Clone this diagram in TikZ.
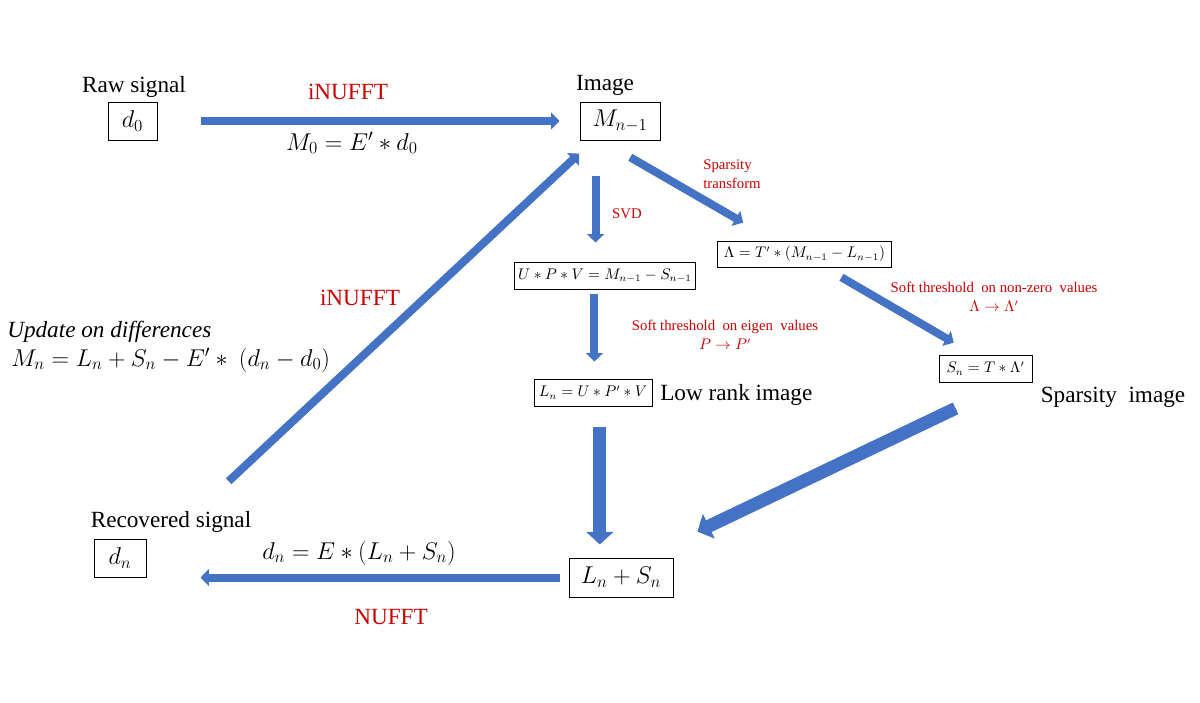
\documentclass[tikz,border=0pt]{standalone}
\usepackage{fontspec}
\setmainfont{Liberation Serif}
\usetikzlibrary{arrows.meta,calc}
\definecolor{arrowblue}{RGB}{68,114,196}
\definecolor{labelred}{RGB}{204,0,0}

\begin{document}
\begin{tikzpicture}[x=0.025cm, y=-0.025cm,
  box/.style={rectangle, draw=black, line width=0.7pt, inner sep=1pt, align=center},
  bigbox/.style={box, font=\fontsize{16.5}{19}\selectfont},
  smallbox/.style={box, font=\fontsize{10.5}{12}\selectfont},
  lbl/.style={font=\fontsize{16.5}{19}\selectfont, inner sep=0pt},
  redlbl/.style={lbl, text=labelred},
  smallred/.style={font=\fontsize{10.5}{13.5}\selectfont, text=labelred, inner sep=0pt},
  thinarr/.style={draw=arrowblue, line width=5.7pt, -{Triangle[width=12pt,length=6pt]}},
  bigarr/.style={draw=arrowblue, line width=9.2pt, -{Triangle[width=19pt,length=9pt]}}
]
\useasboundingbox (0,0) rectangle (1200,702);

% raw signal and image
\node[lbl] (rawlbl) at (134,87) {Raw signal};
\node[bigbox, minimum width=1.225cm, minimum height=0.95cm] (d0) at (132.5,121) {$d_0$};
\node[lbl] (imglbl) at (605,85) {Image};
\node[bigbox, minimum width=2cm, minimum height=0.95cm] (M) at (620,121) {$M_{n-1}$};
\node[redlbl] (inufft) at (348,92) {iNUFFT};
\node[lbl] (minit) at (352,143) {$M_0 = E' * d_0$};

% low rank branch
\node[smallbox, minimum width=4.5cm, minimum height=0.675cm] (UPV) at (605,275.5)
  {$U * P * V = M_{n-1} - S_{n-1}$};
\node[smallbox, minimum width=2.95cm, minimum height=0.675cm] (Ln) at (593,392.5)
  {$L_n = U * P' * V$};
\node[lbl, anchor=west] (lowlbl) at (660,395) {Low rank image};
\node[smallred] (svdlbl) at (627,214) {SVD};
\node[smallred, align=center] (eiglbl) at (725,335)
  {Soft\ threshold\ \ on\ eigen\ \ values\\$P \rightarrow P'$};

% sparse branch
\node[smallbox, minimum width=4.325cm, minimum height=0.65cm] (Lam) at (804.5,254)
  {$\Lambda = T' * (M_{n-1} - L_{n-1})$};
\node[smallbox, minimum width=2.325cm, minimum height=0.675cm] (Sn) at (985.5,368.5)
  {$S_n = T * \Lambda'$};
\node[lbl] (sparselbl) at (1113,397) {Sparsity\ \ image};
\node[smallred, align=left, anchor=west] (trflbl) at (703,174) {Sparsity\\transform};
\node[smallred, align=center] (nzlbl) at (994,297)
  {Soft\ threshold\ \ on\ non-zero\ \ values\\$\Lambda \rightarrow \Lambda'$};

% recovery
\node[bigbox, minimum width=2.6cm, minimum height=0.975cm] (LS) at (621,577.5) {$L_n + S_n$};
\node[lbl] (reclbl) at (171,522) {Recovered signal};
\node[bigbox, minimum width=1.3cm, minimum height=0.95cm] (dn) at (120,558) {$d_n$};
\node[lbl] (dnlbl) at (359,553) {$d_n = E * (L_n + S_n)$};
\node[redlbl] (nufft) at (391,617) {NUFFT};
\node[redlbl] (inufft2) at (360,298) {iNUFFT};
\node[lbl, anchor=west, font=\fontsize{16.5}{19}\selectfont\itshape] (updlbl) at (7,332) {Update on differences};
\node[lbl, anchor=west] (updeq) at (11,360) {$M_n = L_n + S_n - E' *\ (d_n - d_0)$};

% arrows
\draw[thinarr, shorten <=1.075cm, shorten >=0.5cm] (d0) -- (M);
\draw[thinarr, shorten <=0.875cm, shorten >=0.475cm] (M.south -| UPV.124) -- (UPV.124);
\draw[thinarr, shorten <=0.125cm, shorten >=0.425cm] (UPV.-127) -- (UPV.-127 |- Ln.north);
\draw[thinarr, shorten <=0.84cm, shorten >=0.895cm] (M.-134) -- (Lam.156);
\draw[thinarr, shorten <=0.49cm, shorten >=0.59cm] (Lam.-34) -- (Sn.129);
\draw[bigarr, shorten <=0.5cm, shorten >=0.325cm] (Ln.-64) -- (Ln.-64 |- LS.north);
\draw[bigarr, shorten <=1.5cm, shorten >=1.5cm] (Sn.-30) -- (LS.42);
\draw[thinarr, shorten <=0.225cm, shorten >=1.35cm] (LS.west) -- (LS.west -| dn.east);
\draw[thinarr, shorten <=2.81cm, shorten >=0.48cm] (dn.east) -- (M.-144);

\end{tikzpicture}
\end{document}
